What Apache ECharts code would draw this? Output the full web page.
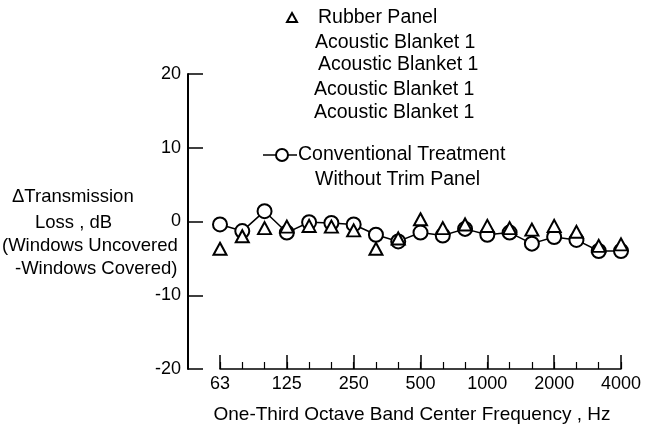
<!DOCTYPE html>
<html>
<head>
<meta charset="utf-8">
<script src="https://cdn.jsdelivr.net/npm/echarts@6/dist/echarts.min.js"></script>
<style>html,body{margin:0;padding:0;background:#fff}#c{width:653px;height:427px}</style>
</head>
<body>
<div id="c"></div>
<script>
const freqs = ['63','80','100','125','160','200','250','315','400','500','630','800','1000','1250','1600','2000','2500','3150','4000'];
const conventional = [-0.4,-1.3,1.4,-1.5,-0.1,-0.2,-0.4,-1.8,-2.7,-1.5,-1.9,-1.0,-1.8,-1.5,-3.0,-2.1,-2.5,-4.0,-4.0];
const rubberPanel = [-3.7,-2.0,-0.9,-0.7,-0.6,-0.7,-1.2,-3.7,-2.3,0.3,-0.9,-0.4,-0.6,-0.9,-1.1,-0.6,-1.4,-3.3,-3.1];
const yTicks = [-20,-10,0,10,20];
const yLabelLines = ['\u0394Transmission','Loss , dB','(Windows Uncovered','-Windows Covered)'];
const legendTri = ['Rubber Panel','Acoustic Blanket 1','Acoustic Blanket 1','Acoustic Blanket 1','Acoustic Blanket 1'];
const legendCirc = ['Conventional Treatment','Without Trim Panel'];
const xTitle = 'One-Third Octave Band Center Frequency , Hz';

const FONT = 'Liberation Sans, Arial, sans-serif';
const chart = echarts.init(document.getElementById('c'));

function txt(text, x, y, size){
  return {type:'text', x:x, y:y, style:{text:text, fill:'#000', font: size+'px '+FONT, verticalAlign:'middle', align:'left'}};
}
const yLabPos = [[12,197],[35,223],[2,246],[15,269]];
const legTriPos = [[318,18],[315,43],[318,65],[314,90],[314,113]];
const legCircPos = [[298,155],[315,180]];
const graphics = [];
yLabelLines.forEach((t,i)=>graphics.push(txt(t, yLabPos[i][0], yLabPos[i][1], 18.5)));
legendTri.forEach((t,i)=>graphics.push(txt(t, legTriPos[i][0], legTriPos[i][1], 19.5)));
legendCirc.forEach((t,i)=>graphics.push(txt(t, legCircPos[i][0], legCircPos[i][1], 19.5)));
graphics.push({type:'polygon', shape:{points:[[292,13],[297,22],[287,22]]}, style:{fill:'#fff', stroke:'#000', lineWidth:2}});
graphics.push({type:'line', shape:{x1:263,y1:155,x2:297,y2:155}, style:{stroke:'#000', lineWidth:1.5}});
graphics.push({type:'circle', shape:{cx:282,cy:155,r:6}, style:{fill:'#fff', stroke:'#000', lineWidth:2}});
graphics.push({type:'text', x:412, y:415, style:{text:xTitle, fill:'#000', font:'19px '+FONT, align:'center', verticalAlign:'middle'}});

chart.setOption({
  animation:false,
  backgroundColor:'#fff',
  grid:{left:220, right:32, top:74, bottom:58},
  xAxis:[{
    type:'category', data:freqs, boundaryGap:false, position:'bottom',
    axisLine:{onZero:false, lineStyle:{color:'#000', width:1.5}},
    axisTick:{inside:true, length:14, interval:(i)=>i%3===0, lineStyle:{color:'#000', width:1.5}},
    axisLabel:{interval:(i)=>i%3===0, color:'#000', fontSize:18, fontFamily:FONT, margin:6},
    splitLine:{show:false}
  },{
    type:'category', data:freqs, boundaryGap:false, position:'bottom',
    axisLine:{show:false, onZero:false},
    axisTick:{inside:true, length:7, interval:0, lineStyle:{color:'#000', width:1.2}},
    axisLabel:{show:false}, splitLine:{show:false}
  }],
  yAxis:{
    type:'value', min:-20, max:20, interval:10, offset:32,
    axisLine:{show:true, lineStyle:{color:'#000', width:2}},
    axisTick:{show:true, inside:true, length:15, lineStyle:{color:'#000', width:1.5}},
    axisLabel:{color:'#000', fontSize:18, fontFamily:FONT, margin:7, formatter:(v)=>String(v)},
    splitLine:{show:false}
  },
  graphic:graphics,
  series:[{
    name:'Conventional Treatment Without Trim Panel', type:'line', data:conventional,
    symbol:'circle', symbolSize:14, z:2,
    lineStyle:{color:'#000', width:1.5},
    itemStyle:{color:'#fff', borderColor:'#000', borderWidth:2, opacity:1}
  },{
    name:'Rubber Panel Acoustic Blanket 1', type:'scatter', data:rubberPanel,
    symbol:'triangle', symbolSize:[13,12], z:3,
    itemStyle:{color:'#fff', borderColor:'#000', borderWidth:2, opacity:1}
  }]
});
</script>
</body>
</html>
